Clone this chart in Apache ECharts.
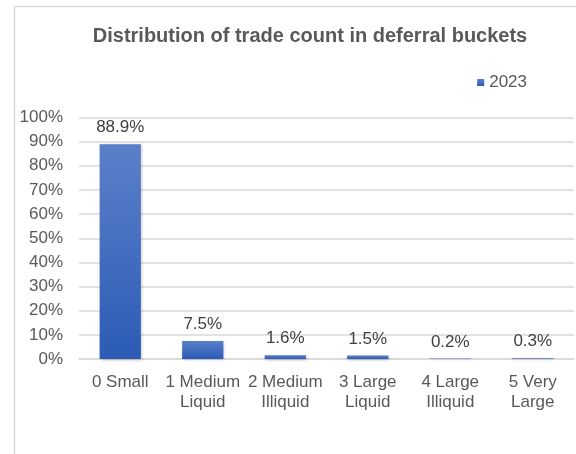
<!DOCTYPE html>
<html>
<head>
<meta charset="utf-8">
<script src="https://cdn.jsdelivr.net/npm/echarts@6/dist/echarts.min.js"></script>
<style>
  html, body { margin: 0; padding: 0; background: #fff; }
  #chart { width: 576px; height: 454px; }
</style>
</head>
<body>
<div id="chart"></div>
<script>
// Deferral buckets and share of trade count (percent)
const categories = ['0 Small', '1 Medium\nLiquid', '2 Medium\nIlliquid', '3 Large\nLiquid', '4 Large\nIlliquid', '5 Very\nLarge'];
const values2023 = [88.9, 7.5, 1.6, 1.5, 0.2, 0.3];
const seriesName = '2023';
const titleText = 'Distribution of trade count in deferral buckets';

const font = '"Liberation Sans", Arial, sans-serif';
const chart = echarts.init(document.getElementById('chart'), null, { renderer: 'canvas' });

chart.setOption({
  backgroundColor: '#ffffff',
  animation: false,
  color: ['#4472c4'],
  graphic: [{
    type: 'rect',
    shape: { x: 14.5, y: 6.5, width: 600, height: 500 },
    style: { fill: 'none', stroke: '#d9d9d9', lineWidth: 1.5 },
    silent: true
  }],
  title: {
    text: titleText,
    left: 305,
    top: 21,
    textAlign: 'center',
    textStyle: { fontFamily: font, fontSize: 20, fontWeight: 'bold', color: '#595959' }
  },
  legend: {
    data: [seriesName],
    right: 44,
    top: 69,
    itemWidth: 7,
    itemHeight: 7,
    itemGap: 3,
    icon: 'rect',
    textStyle: { fontFamily: font, fontSize: 17, color: '#595959' }
  },
  grid: { left: 79, right: 2, top: 117.5, bottom: 95, containLabel: false },
  xAxis: {
    type: 'category',
    data: categories,
    axisLine: { show: true, lineStyle: { color: '#d9d9d9', width: 1.5 } },
    axisTick: { show: false },
    axisLabel: {
      interval: 0,
      margin: 13,
      fontFamily: font,
      fontSize: 17,
      lineHeight: 20,
      color: '#595959'
    }
  },
  yAxis: {
    type: 'value',
    min: 0,
    max: 100,
    interval: 10,
    axisLine: { show: false },
    axisTick: { show: false },
    splitLine: { lineStyle: { color: '#d9d9d9', width: 1.5 } },
    axisLabel: {
      formatter: '{value}%',
      margin: 16,
      fontFamily: font,
      fontSize: 17,
      color: '#595959'
    }
  },
  series: [{
    name: seriesName,
    type: 'bar',
    data: values2023,
    barWidth: '50%',
    itemStyle: {
      color: new echarts.graphic.LinearGradient(0, 0, 0, 1, [
        { offset: 0, color: '#5b80c9' },
        { offset: 1, color: '#2c5bb5' }
      ]),
      shadowColor: 'rgba(0,0,0,0.25)',
      shadowBlur: 3,
      shadowOffsetX: 1,
      shadowOffsetY: 1
    },
    label: {
      show: true,
      position: 'top',
      distance: 8,
      formatter: p => p.value.toFixed(1) + '%',
      fontFamily: font,
      fontSize: 17,
      color: '#404040'
    }
  }]
});
</script>
</body>
</html>
